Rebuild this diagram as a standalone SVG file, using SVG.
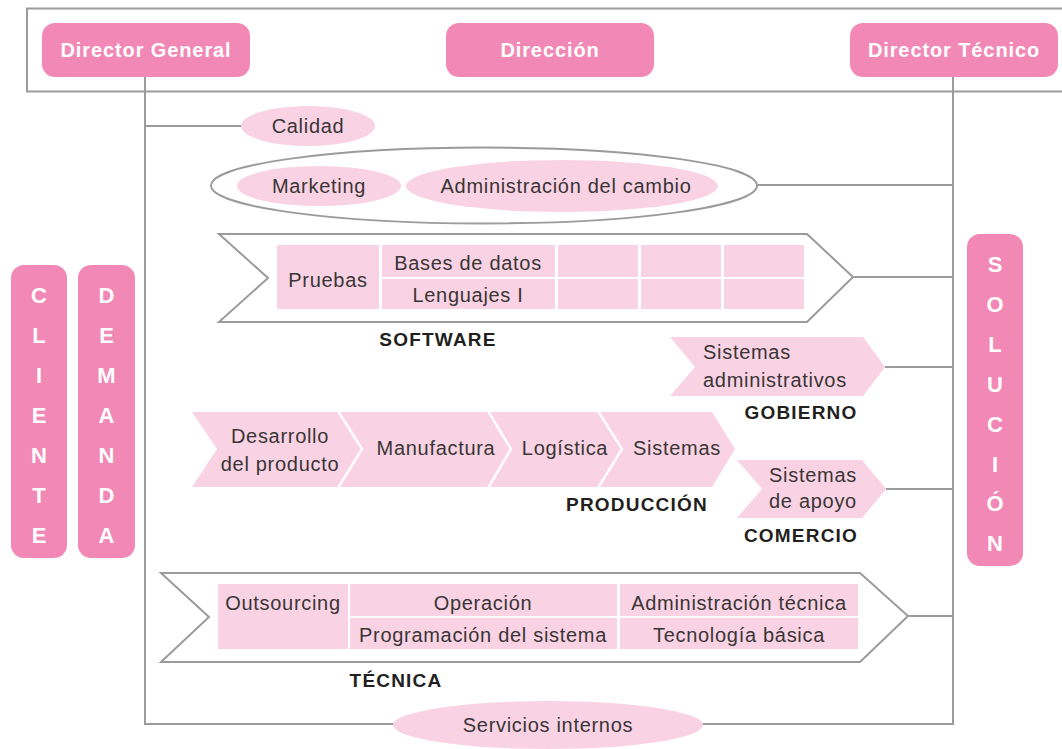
<svg xmlns="http://www.w3.org/2000/svg" width="1062" height="749" viewBox="0 0 1062 749">
<style>
.ln{fill:none;stroke:#9b9b9d;stroke-width:2}
.hd{fill:#f288b5}
.pl{fill:#f9d3e4}
.sep{fill:none;stroke:#fff;stroke-width:2.5}
.ht{font-family:"Liberation Sans",Arial,sans-serif;font-weight:bold;font-size:20px;letter-spacing:0.9px;fill:#fff;text-anchor:middle}
.vt{font-family:"Liberation Sans",Arial,sans-serif;font-weight:bold;font-size:22px;fill:#fff;text-anchor:middle}
.t{font-family:"Liberation Sans",Arial,sans-serif;font-size:20px;letter-spacing:0.7px;fill:#3a3536;text-anchor:middle}
.tl{font-family:"Liberation Sans",Arial,sans-serif;font-size:20px;letter-spacing:0.7px;fill:#3a3536}
.lb{font-family:"Liberation Sans",Arial,sans-serif;font-weight:bold;font-size:19px;letter-spacing:1.2px;fill:#231f20;text-anchor:middle}
</style>
<rect width="1062" height="749" fill="#fff"/>
<g id="frame">
<rect x="27" y="8.5" width="1050" height="83" class="ln"/>
</g>
<g id="connectors">
<path class="ln" d="M145,76 V724 H953 V76"/>
<path class="ln" d="M145,126 H242"/>
<path class="ln" d="M757,185 H953"/>
<path class="ln" d="M853,277 H953"/>
<path class="ln" d="M885,367 H953"/>
<path class="ln" d="M886,489 H953"/>
<path class="ln" d="M908,616 H953"/>
</g>
<g id="director-general">
<rect x="42" y="23" width="208" height="54" rx="13" class="hd"/>
<text x="146" y="57" class="ht">Director General</text>
</g>
<g id="direccion">
<rect x="446" y="23" width="208" height="54" rx="13" class="hd"/>
<text x="550" y="57" class="ht">Dirección</text>
</g>
<g id="director-tecnico">
<rect x="850" y="23" width="208" height="54" rx="13" class="hd"/>
<text x="954" y="57" class="ht">Director Técnico</text>
</g>
<g id="cliente">
<rect x="11" y="265" width="56" height="293" rx="13" class="hd"/>
<text class="vt"><tspan x="39" y="303">C</tspan><tspan x="39" y="343">L</tspan><tspan x="39" y="383">I</tspan><tspan x="39" y="423">E</tspan><tspan x="39" y="463">N</tspan><tspan x="39" y="503">T</tspan><tspan x="39" y="543">E</tspan></text>
</g>
<g id="demanda">
<rect x="78" y="265" width="57" height="293" rx="13" class="hd"/>
<text class="vt"><tspan x="106.5" y="303">D</tspan><tspan x="106.5" y="343">E</tspan><tspan x="106.5" y="383">M</tspan><tspan x="106.5" y="423">A</tspan><tspan x="106.5" y="463">N</tspan><tspan x="106.5" y="503">D</tspan><tspan x="106.5" y="543">A</tspan></text>
</g>
<g id="solucion">
<rect x="967" y="234" width="56" height="332" rx="13" class="hd"/>
<text class="vt"><tspan x="995" y="272">S</tspan><tspan x="995" y="312">O</tspan><tspan x="995" y="352">L</tspan><tspan x="995" y="392">U</tspan><tspan x="995" y="432">C</tspan><tspan x="995" y="472">I</tspan><tspan x="995" y="511">Ó</tspan><tspan x="995" y="551">N</tspan></text>
</g>
<g id="calidad">
<ellipse cx="308" cy="126" rx="67" ry="20" class="pl"/>
<text x="308" y="133" class="t">Calidad</text>
</g>
<g id="marketing-group">
<ellipse cx="484" cy="185.5" rx="273" ry="38" class="ln"/>
<ellipse cx="319" cy="186" rx="82" ry="20" class="pl"/>
<text x="319" y="193" class="t">Marketing</text>
<ellipse cx="562" cy="186" rx="156" ry="26" class="pl"/>
<text x="566" y="193" class="t">Administración del cambio</text>
</g>
<g id="software">
<polygon points="219,234 807,234 853,277 807,322 219,322 268,278" class="ln"/>
<rect x="277" y="245" width="102" height="64" class="pl"/>
<rect x="382" y="245" width="173" height="32" class="pl"/>
<rect x="382" y="279" width="173" height="30" class="pl"/>
<rect x="558" y="245" width="80" height="32" class="pl"/>
<rect x="558" y="279" width="80" height="30" class="pl"/>
<rect x="641" y="245" width="80" height="32" class="pl"/>
<rect x="641" y="279" width="80" height="30" class="pl"/>
<rect x="724" y="245" width="80" height="32" class="pl"/>
<rect x="724" y="279" width="80" height="30" class="pl"/>
<text x="328" y="287" class="t">Pruebas</text>
<text x="468" y="270" class="t">Bases de datos</text>
<text x="468" y="302" class="t">Lenguajes I</text>
<text x="438" y="346" class="lb">SOFTWARE</text>
</g>
<g id="gobierno">
<polygon points="670,337 863,337 885,367 863,396 670,396 695,367" class="pl"/>
<text class="tl"><tspan x="703" y="359">Sistemas</tspan><tspan x="703" y="387">administrativos</tspan></text>
<text x="801" y="419" class="lb">GOBIERNO</text>
</g>
<g id="produccion">
<polygon points="192,412 712,412 735,449 712,487 192,487 217,449" class="pl"/>
<polyline points="338,411 362,449 338,488" class="sep"/>
<polyline points="488,411 511,449 488,488" class="sep"/>
<polyline points="598,411 622,449 598,488" class="sep"/>
<text class="t"><tspan x="280" y="443">Desarrollo</tspan><tspan x="280" y="471">del producto</tspan></text>
<text x="436" y="455" class="t">Manufactura</text>
<text x="565" y="455" class="t">Logística</text>
<text x="677" y="455" class="t">Sistemas</text>
<text x="637" y="511" class="lb">PRODUCCIÓN</text>
</g>
<g id="comercio">
<polygon points="737,460 862,460 886,489 862,518 737,518 762,489" class="pl"/>
<text class="t"><tspan x="813" y="482">Sistemas</tspan><tspan x="813" y="508">de apoyo</tspan></text>
<text x="801" y="542" class="lb">COMERCIO</text>
</g>
<g id="tecnica">
<polygon points="161,573 860,573 908,616 860,662 161,662 209,617" class="ln"/>
<rect x="218" y="584" width="130" height="65" class="pl"/>
<rect x="350" y="584" width="267" height="32" class="pl"/>
<rect x="350" y="618" width="267" height="31" class="pl"/>
<rect x="620" y="584" width="238" height="32" class="pl"/>
<rect x="620" y="618" width="238" height="31" class="pl"/>
<text x="283" y="610" class="t">Outsourcing</text>
<text x="483" y="610" class="t">Operación</text>
<text x="483" y="642" class="t">Programación del sistema</text>
<text x="739" y="610" class="t">Administración técnica</text>
<text x="739" y="642" class="t">Tecnología básica</text>
<text x="396" y="687" class="lb">TÉCNICA</text>
</g>
<g id="servicios">
<ellipse cx="548" cy="725" rx="155" ry="24" class="pl"/>
<text x="548" y="732" class="t">Servicios internos</text>
</g>
</svg>
